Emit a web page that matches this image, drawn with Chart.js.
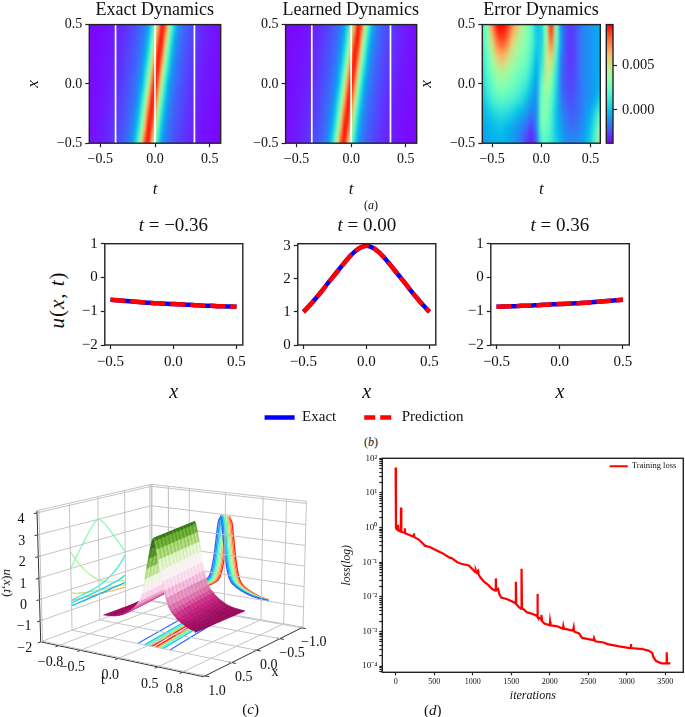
<!DOCTYPE html>
<html>
<head>
<meta charset="utf-8">
<script src="https://cdn.jsdelivr.net/npm/chart.js@4/dist/chart.umd.min.js"></script>
<style>
html, body { margin: 0; background: #fff; }
body { position: relative; width: 685px; height: 717px; overflow: hidden; }
canvas { position: absolute; }
.lab { position: absolute; font-family: "Liberation Serif", serif; white-space: nowrap; color: #111; }
</style>
</head>
<body>
<script>
// heat maps, panel (a)
var heatT = [-0.6,-0.57,-0.54,-0.51,-0.48,-0.45,-0.42,-0.39,-0.36,-0.33,-0.3,-0.27,-0.24,-0.21,-0.18,-0.15,-0.12,-0.09,-0.06,-0.03,0,0.03,0.06,0.09,0.12,0.15,0.18,0.21,0.24,0.27,0.3,0.33,0.36,0.39,0.42,0.45,0.48,0.51,0.54,0.57,0.6];
var heatX = [-0.5,-0.375,-0.25,-0.125,0,0.125,0.25,0.375,0.5];
var uRows = [
  [-.925,-.91,-.89,-.87,-.84,-.81,-.77,-.72,-.67,-.61,-.55,-.47,-.36,-.18,.2,.85,1.8,2.68,2.83,2,1,.32,-.12,-.34,-.45,-.53,-.6,-.66,-.71,-.76,-.8,-.83,-.86,-.89,-.905,-.92,-.935,-.945,-.955,-.965,-.97],
  [-.93,-.915,-.9,-.885,-.855,-.825,-.79,-.75,-.7,-.64,-.58,-.52,-.43,-.31,-.05,.4,1.2,2.15,2.93,2.55,1.6,.7,.1,-.22,-.38,-.48,-.56,-.62,-.68,-.73,-.775,-.815,-.845,-.875,-.9,-.915,-.925,-.94,-.95,-.96,-.97],
  [-.94,-.925,-.915,-.9,-.875,-.845,-.815,-.775,-.73,-.68,-.62,-.56,-.48,-.38,-.22,.1,.7,1.6,2.55,2.93,2.15,1.2,.4,-.05,-.31,-.43,-.52,-.58,-.64,-.7,-.75,-.79,-.825,-.855,-.885,-.9,-.915,-.93,-.94,-.955,-.965],
  [-.945,-.935,-.92,-.905,-.89,-.86,-.83,-.8,-.76,-.71,-.66,-.6,-.53,-.45,-.34,-.12,.32,1,2,2.83,2.68,1.8,.85,.2,-.18,-.36,-.47,-.55,-.61,-.67,-.72,-.77,-.81,-.84,-.87,-.89,-.91,-.925,-.94,-.95,-.96],
  [-.95,-.94,-.93,-.915,-.9,-.88,-.85,-.82,-.78,-.74,-.69,-.63,-.57,-.5,-.4,-.27,0,.55,1.4,2.35,3,2.35,1.4,.55,0,-.27,-.4,-.5,-.57,-.63,-.69,-.74,-.78,-.82,-.85,-.88,-.9,-.915,-.93,-.94,-.95],
  [-.96,-.95,-.94,-.925,-.91,-.89,-.87,-.84,-.81,-.77,-.72,-.67,-.61,-.55,-.47,-.36,-.18,.2,.85,1.8,2.68,2.83,2,1,.32,-.12,-.34,-.45,-.53,-.6,-.66,-.71,-.76,-.8,-.83,-.86,-.89,-.905,-.92,-.935,-.945],
  [-.965,-.955,-.94,-.93,-.915,-.9,-.885,-.855,-.825,-.79,-.75,-.7,-.64,-.58,-.52,-.43,-.31,-.05,.4,1.2,2.15,2.93,2.55,1.6,.7,.1,-.22,-.38,-.48,-.56,-.62,-.68,-.73,-.775,-.815,-.845,-.875,-.9,-.915,-.925,-.94],
  [-.97,-.96,-.95,-.94,-.925,-.915,-.9,-.875,-.845,-.815,-.775,-.73,-.68,-.62,-.56,-.48,-.38,-.22,.1,.7,1.6,2.55,2.93,2.15,1.2,.4,-.05,-.31,-.43,-.52,-.58,-.64,-.7,-.75,-.79,-.825,-.855,-.885,-.9,-.915,-.93],
  [-.97,-.965,-.955,-.945,-.935,-.92,-.905,-.89,-.86,-.83,-.8,-.76,-.71,-.66,-.6,-.53,-.45,-.34,-.12,.32,1,2,2.83,2.68,1.8,.85,.2,-.18,-.36,-.47,-.55,-.61,-.67,-.72,-.77,-.81,-.84,-.87,-.89,-.91,-.925]
];
var errT = [-0.6,-0.55,-0.5,-0.45,-0.4,-0.35,-0.3,-0.25,-0.2,-0.15,-0.1,-0.05,0,0.05,0.1,0.15,0.2,0.25,0.3,0.35,0.4,0.45,0.5,0.55,0.6];
// error in units of 0.001
var errRows = [
  [-1.1,-.8,-.5,-.4,-.4,-.5,-.8,-1.3,-1.9,-2.7,-3.2,-2.1,1.4,1.9,1.1,.3,-.4,-1.1,-1.3,-1.3,-1.1,-.4,.3,1.9,5.4],
  [-.8,-.5,-.3,-.1,-.1,-.4,-.7,-1.1,-1.5,-2,-2.7,-1.3,2.2,2.4,1.4,0,-.8,-1.5,-1.7,-1.7,-1.3,-.8,0,1.4,3.7],
  [-.5,-.1,.3,.6,.7,.6,.3,-.1,-.5,-1.1,-1.6,-1.1,2.7,3,1.6,0,-1.1,-1.7,-2.1,-2,-1.6,-1.1,-.5,.6,1.9],
  [-.1,.7,1.4,1.9,2,1.9,1.6,1.2,.7,0,-.8,-1.1,2.4,3.2,2.2,.3,-1.5,-2.1,-2.4,-2.1,-1.7,-1.3,-1.1,-.5,.3],
  [.3,1.4,2.2,3,3.2,3,2.6,2.2,1.6,1.1,0,-.8,1.9,4.1,3,.6,-1.6,-2.4,-2.5,-2.3,-1.7,-1.3,-1.1,-.8,-.3],
  [.7,1.9,3,4.1,4.6,4.1,3.5,3,2.4,1.9,.8,-.4,1.1,4.6,4.1,1.1,-1.6,-2.4,-2.7,-2.4,-1.7,-1.3,-1.1,-.8,-.4],
  [1.1,2.3,4.1,5.9,6.5,5.7,4.6,3.8,3.2,2.6,1.4,0,.6,4.3,5.9,1.9,-1.3,-2.4,-2.8,-2.4,-1.7,-1.3,-1.1,-.8,-.4],
  [1.4,3,5.4,7.7,8.4,7.7,5.9,4.6,3.7,3,1.9,.3,.3,3.7,7.7,3,-.8,-2.4,-2.8,-2.4,-1.7,-1.3,-1.1,-.8,-.4],
  [1.4,3,7,9.3,9.7,8.8,7.3,5.9,4.6,3,1.9,0,.3,3.7,8.8,3,-1.1,-2.4,-2.7,-2.4,-1.7,-1.3,-1.1,-.8,-.4]
];
var sliceTimes = [-0.36, 0, 0.36];
var barLevels = [-3.7,-2.7,-1.7,-0.7,0.3,1.3,2.3,3.3,4.3,5.3,6.3,7.3,8.3,9.5];
var heatTTicks = [-0.5, 0, 0.5];
var heatTLabels = ['\u22120.5', '0.0', '0.5'];
var heatXTicks = [-0.5, 0, 0.5];
var heatXLabels = ['\u22120.5', '0.0', '0.5'];
var barTicks = [0, 5];
var barLabels = ['0.000', '0.005'];

// slices, panel (b)
var sliceX = [-0.5,-0.45,-0.4,-0.35,-0.3,-0.25,-0.2,-0.15,-0.1,-0.05,0,0.05,0.1,0.15,0.2,0.25,0.3,0.35,0.4,0.45,0.5];
var uAtMinus = [-.66,-.675,-.69,-.705,-.72,-.735,-.75,-.76,-.77,-.78,-.785,-.795,-.805,-.815,-.825,-.835,-.84,-.85,-.855,-.86,-.87];
var uAtZero = [1,1.2,1.42,1.65,1.9,2.13,2.37,2.6,2.8,2.94,3,2.94,2.8,2.6,2.37,2.13,1.9,1.65,1.42,1.2,1];
var uAtPlus = [-.87,-.86,-.855,-.85,-.84,-.835,-.825,-.815,-.805,-.795,-.785,-.78,-.77,-.76,-.75,-.735,-.72,-.705,-.69,-.675,-.66];
var sliceXTicks = [-0.5, 0, 0.5];
var sliceXLabels = ['\u22120.5', '0.0', '0.5'];
var sideYTicks = [-2, -1, 0, 1];
var sideYLabels = ['\u22122', '\u22121', '0', '1'];
var midYTicks = [0, 1, 2, 3];
var midYLabels = ['0', '1', '2', '3'];

// 3d view, panel (c)
var surfX = [-.5,-.472,-.444,-.417,-.389,-.361,-.333,-.306,-.278,-.25,-.222,-.194,-.167,-.139,-.111,-.083,-.056,-.028,0,.028,.056,.083,.111,.139,.167,.194,.222,.25,.278,.306,.333,.361,.389,.417,.444,.472,.5];
var surfRidge = [-.072,-.068,-.064,-.06,-.056,-.052,-.048,-.044,-.04,-.036,-.032,-.028,-.024,-.02,-.016,-.012,-.008,-.004,0,.004,.008,.012,.016,.02,.024,.028,.032,.036,.04,.044,.048,.052,.056,.06,.064,.068,.072];
var surfOffset = [-.8,-.58,-.52,-.47,-.42,-.38,-.34,-.3,-.256,-.224,-.19,-.16,-.136,-.112,-.088,-.064,-.04,-.016,0,.016,.04,.064,.088,.112,.136,.16,.19,.224,.256,.3,.34,.38,.42,.47,.52,.58,.8];
var surfU = [-.96,-.93,-.9,-.85,-.78,-.69,-.61,-.5,-.33,-.2,0,.35,.68,1.08,1.58,2.05,2.5,2.88,3,2.88,2.5,2.05,1.58,1.08,.68,.35,0,-.2,-.33,-.5,-.61,-.69,-.78,-.85,-.9,-.93,-.96];
var boxTicksT = [-0.8, -0.5, 0, 0.5, 0.8];
var boxLabelsT = ['\u22120.8', '\u22120.5', '0.0', '0.5', '0.8'];
var boxTicksX = [-1, -0.5, 0, 0.5, 1];
var boxLabelsX = ['\u22121.0', '\u22120.5', '0.0', '0.5', '1.0'];
var boxTicksU = [-2, -1, 0, 1, 2, 3, 4];
var boxLabelsU = ['\u22122', '\u22121', '0', '1', '2', '3', '4'];
var wallColumns = [10, 13, 15, 20, 24, 27, 30];
var floorLevels = [-0.5, 0, 0.5, 1, 1.5, 2, 2.5];
var floorOffsets = [0.21, 0.12, 0.09, 0.072, 0.058, 0.042, 0.025];
var floorRidge = [-0.072, 0.072];

// training, panel (d)
var lossIter = [0,4,10,25,30,36,55,66,70,74,100,118,120,124,150,200,235,238,242,300,350,380,450,500,600,700,730,800,850,950,1000,1030,1040,1050,1070,1075,1100,1150,1200,1250,1295,1300,1305,1330,1345,1370,1450,1520,1555,1560,1565,1600,1630,1634,1640,1680,1700,1780,1835,1840,1845,1870,1888,1892,1900,1930,2000,2004,2010,2100,2170,2175,2180,2300,2310,2315,2380,2420,2500,2570,2575,2590,2700,2750,2900,3000,3050,3054,3058,3200,3280,3330,3345,3380,3450,3515,3518,3522,3566];
var lossVal = [54,1,0.92,0.85,1.2,0.82,0.78,0.77,3.8,0.75,0.72,0.7,0.95,0.68,0.65,0.58,0.55,0.68,0.53,0.45,0.35,0.3,0.27,0.235,0.185,0.135,0.13,0.1,0.09,0.08,0.062,0.052,0.058,0.05,0.056,0.045,0.036,0.027,0.022,0.017,0.015,0.034,0.016,0.017,0.012,0.0095,0.0085,0.0072,0.0065,0.027,0.0062,0.005,0.0045,0.065,0.0048,0.004,0.0036,0.0032,0.0028,0.012,0.0026,0.0024,0.0022,0.003,0.002,0.0017,0.0015,0.0019,0.0015,0.0014,0.0012,0.0014,0.0012,0.00105,0.0013,0.001,0.00088,0.00065,0.0006,0.00056,0.00064,0.00052,0.00048,0.00043,0.00037,0.00034,0.00033,0.00043,0.00033,0.00031,0.00028,0.00024,0.00018,0.00014,0.00012,0.00012,0.00025,0.00012,0.00012];
var lossXTicks = [0, 500, 1000, 1500, 2000, 2500, 3000, 3500];
var lossDecades = [1e-4, 1e-3, 1e-2, 1e-1, 1, 10, 100];
var lossDecadeLabels = ['10\u207B\u2074', '10\u207B\u00B3', '10\u207B\u00B2', '10\u207B\u00B9', '10\u2070', '10\u00B9', '10\u00B2'];

var SERIF = '"Liberation Serif", serif';
Chart.defaults.animation = false;
Chart.defaults.font.family = SERIF;
Chart.defaults.color = '#111';
Chart.defaults.plugins.legend.display = false;
Chart.defaults.plugins.tooltip.enabled = false;
var INK = '#222';

function rainbow(v) {
    v = Math.max(0, Math.min(1, v));
    var r = Math.abs(2 * v - 0.5), g = Math.sin(Math.PI * v), b = Math.cos(Math.PI * v / 2);
    return 'rgb(' + Math.round(Math.min(r, 1) * 255) + ',' + Math.round(g * 255) + ',' + Math.round(b * 255) + ')';
}

var piyg = [[142,1,82],[197,27,125],[222,119,174],[241,182,218],[253,224,239],[247,247,247],[230,245,208],[184,225,134],[127,188,65],[77,146,33],[39,100,25]];
function pinkGreen(v) {
    v = Math.max(0, Math.min(0.9999, v)) * (piyg.length - 1);
    var i = Math.floor(v), f = v - i, a = piyg[i], b = piyg[i + 1];
    return 'rgb(' + a.map(function (c, k) { return Math.round(c + (b[k] - c) * f); }).join(',') + ')';
}

function addLabel(html, x, y, size, rotate, italic) {
    var d = document.createElement('div');
    d.className = 'lab';
    d.innerHTML = html;
    d.style.left = x + 'px';
    d.style.top = y + 'px';
    d.style.fontSize = size + 'px';
    if (italic) d.style.fontStyle = 'italic';
    d.style.transform = 'translate(-50%,-50%) rotate(' + (rotate || 0) + 'deg)';
    document.body.appendChild(d);
    return d;
}

// the canvas sits on whole pixels, the plot area may not
function addCanvas(plot, m) {
    var c = document.createElement('canvas');
    var left = Math.floor(plot.l - m.l), top = Math.floor(plot.t - m.t);
    var right = Math.ceil(plot.r + m.r), bottom = Math.ceil(plot.b + m.b);
    c.width = right - left;
    c.height = bottom - top;
    c.style.left = left + 'px';
    c.style.top = top + 'px';
    document.body.appendChild(c);
    return {
        canvas: c,
        axisLeft: plot.l - left,
        axisBottom: bottom - plot.b,
        axisRight: right - plot.r,
        padding: { top: plot.t - top, right: right - plot.r, left: 0, bottom: 0 }
    };
}

function tickStyle(len) {
    return { drawOnChartArea: false, drawTicks: true, tickLength: len, tickColor: INK, tickWidth: 1.2 };
}

function xAxis(box, min, max, ticks, labels, size, title, titleSize, edge, pad) {
    return {
        type: 'linear', min: min, max: max,
        grid: tickStyle(4), border: { display: false },
        afterBuildTicks: function (s) { s.ticks = ticks.map(function (v) { return { value: v }; }); },
        afterFit: function (s) { s.height = box.axisBottom; s.paddingLeft = 0; s.paddingRight = 0; },
        ticks: { autoSkip: false, maxRotation: 0, padding: pad || 4, font: { size: size }, callback: function (v, i) { return labels[i]; } },
        title: { display: !!title, text: title, font: { size: titleSize, style: 'italic', lineHeight: 1.2 }, padding: { top: edge, bottom: 0 } }
    };
}

function yAxis(box, min, max, ticks, labels, size, title, titleSize, edge) {
    return {
        type: 'linear', min: min, max: max,
        grid: tickStyle(4), border: { display: false },
        afterBuildTicks: function (s) { s.ticks = ticks.map(function (v) { return { value: v }; }); },
        afterFit: function (s) { s.width = box.axisLeft; s.paddingTop = 0; s.paddingBottom = 0; },
        ticks: { autoSkip: false, maxRotation: 0, padding: 3, font: { size: size }, callback: function (v, i) { return labels[i]; } },
        title: { display: !!title, text: title, font: { size: titleSize, style: 'italic', lineHeight: 1.2 }, padding: { top: edge, bottom: 0 } }
    };
}

var framePlugin = {
    id: 'frame',
    afterDatasetsDraw: function (chart) {
        var a = chart.chartArea, ctx = chart.ctx;
        ctx.save();
        ctx.strokeStyle = INK;
        ctx.lineWidth = 1.4;
        ctx.strokeRect(a.left, a.top, a.right - a.left, a.bottom - a.top);
        ctx.restore();
    }
};

// paints a value table into a small image and scales it onto the axes
function heatLayer(rows, ts, xs, lo, hi) {
    return {
        id: 'heat',
        beforeDatasetsDraw: function (chart) {
            var off = document.createElement('canvas');
            off.width = ts.length;
            off.height = xs.length;
            var oc = off.getContext('2d');
            rows.forEach(function (row, i) {
                row.forEach(function (v, j) {
                    oc.fillStyle = rainbow((v - lo) / (hi - lo));
                    oc.fillRect(j, xs.length - 1 - i, 1, 1);
                });
            });
            var sx = chart.scales.x, sy = chart.scales.y, ctx = chart.ctx;
            var x0 = sx.getPixelForValue(ts[0]), x1 = sx.getPixelForValue(ts[ts.length - 1]);
            var y0 = sy.getPixelForValue(xs[xs.length - 1]), y1 = sy.getPixelForValue(xs[0]);
            ctx.save();
            ctx.imageSmoothingEnabled = true;
            ctx.imageSmoothingQuality = 'high';
            ctx.drawImage(off, 0.5, 0.5, ts.length - 1, xs.length - 1, x0, y0, x1 - x0, y1 - y0);
            ctx.restore();
        }
    };
}

function sliceLines(xs) {
    return sliceTimes.map(function (t) {
        return {
            data: xs.map(function (x) { return { x: t, y: x }; }),
            showLine: true, borderColor: '#fff', borderWidth: 1.7, pointRadius: 0
        };
    });
}

function heatPanel(plot, m, rows, ts, lo, hi, withSlices, tMin, tMax, yTitle, yEdge) {
    var box = addCanvas(plot, m);
    return new Chart(box.canvas, {
        type: 'scatter',
        data: { datasets: withSlices ? sliceLines(heatX.filter(function (x) { return x === -0.5 || x === 0.5; })) : [] },
        options: {
            responsive: false,
            layout: { padding: box.padding },
            scales: {
                x: xAxis(box, tMin, tMax, heatTTicks, heatTLabels, 14, 't', 17, 5),
                y: yAxis(box, -0.5, 0.5, heatXTicks, heatXLabels, 14, yTitle, 17, yEdge)
            }
        },
        plugins: [heatLayer(rows, ts, heatX, lo, hi), framePlugin]
    });
}

heatPanel({ l: 89.3, r: 220.7, t: 24.6, b: 143.2 }, { l: 68, r: 24, t: 12, b: 56 }, uRows, heatT, -1, 3, true, -0.6, 0.6, 'x', 2);
heatPanel({ l: 285.6, r: 416.7, t: 24.6, b: 143.2 }, { l: 40, r: 24, t: 12, b: 56 }, uRows, heatT, -1, 3, true, -0.6, 0.6, '', 0);
heatPanel({ l: 482.3, r: 600.3, t: 24.6, b: 143.2 }, { l: 68, r: 8, t: 12, b: 56 }, errRows, errT, -3.7, 9.5, false, -0.6, 0.6, 'x', 2);

// colour bar of the error panel
(function () {
    var plot = { l: 606.3, r: 613, t: 24.6, b: 143.2 };
    var box = addCanvas(plot, { l: 2, r: 60, t: 12, b: 4 });
    var ys = barLevels;
    var rows = barLevels.map(function (v) { return [v, v]; });
    new Chart(box.canvas, {
        type: 'scatter',
        data: { datasets: [] },
        options: {
            responsive: false,
            layout: { padding: { top: box.padding.top, left: box.axisLeft, right: 0, bottom: box.axisBottom } },
            scales: {
                x: { display: false, min: 0, max: 1 },
                y: {
                    type: 'linear', position: 'right', min: -3.7, max: 9.5,
                    grid: tickStyle(4), border: { display: false },
                    afterBuildTicks: function (s) { s.ticks = barTicks.map(function (v) { return { value: v }; }); },
                    afterFit: function (s) { s.width = box.axisRight; s.paddingTop = 0; s.paddingBottom = 0; },
                    ticks: { autoSkip: false, padding: 5, font: { size: 14.4 }, callback: function (v, i) { return barLabels[i]; } }
                }
            }
        },
        plugins: [heatLayer(rows, [0, 1], ys, -3.7, 9.5), framePlugin]
    });
})();

addLabel('Exact Dynamics', 154.8, 8.5, 18);
addLabel('Learned Dynamics', 350.7, 8.5, 18);
addLabel('Error Dynamics', 541, 8.5, 18);
addLabel('(<i>a</i>)', 371, 205, 12);

// panel (b)
function slicePanel(plot, m, uValues, yMin, yMax, yTicks, yLabels) {
    var box = addCanvas(plot, m);
    return new Chart(box.canvas, {
        type: 'scatter',
        data: {
            datasets: [
                { label: 'Exact', data: sliceX.map(function (x, i) { return { x: x, y: uValues[i] }; }), showLine: true, borderColor: '#0000ff', borderWidth: 4.5, pointRadius: 0, tension: 0.3, order: 2, clip: false },
                { label: 'Prediction', data: sliceX.map(function (x, i) { return { x: x, y: uValues[i] }; }), showLine: true, borderColor: '#ff0000', borderWidth: 4.5, borderDash: [15, 5], pointRadius: 0, tension: 0.3, order: 1, clip: false }
            ]
        },
        options: {
            responsive: false,
            layout: { padding: box.padding },
            scales: {
                x: xAxis(box, -0.545, 0.55, sliceXTicks, sliceXLabels, 15, 'x', 20, 1),
                y: yAxis(box, yMin, yMax, yTicks, yLabels, 15)
            }
        },
        plugins: [framePlugin]
    });
}

slicePanel({ l: 104.8, r: 242.8, t: 243.7, b: 345 }, { l: 30, r: 24, t: 10, b: 60 }, uAtMinus, -2, 1, sideYTicks, sideYLabels);
slicePanel({ l: 297.8, r: 435.8, t: 243.7, b: 345 }, { l: 30, r: 24, t: 10, b: 60 }, uAtZero, 0, 3.06, midYTicks, midYLabels);
slicePanel({ l: 490.8, r: 629.3, t: 243.7, b: 345 }, { l: 30, r: 24, t: 10, b: 60 }, uAtPlus, -2, 1, sideYTicks, sideYLabels);

addLabel('<i>t</i> = \u22120.36', 173.4, 225, 19);
addLabel('<i>t</i> = 0.00', 366.8, 225, 19);
addLabel('<i>t</i> = 0.36', 559.8, 225, 19);
addLabel('<i>u</i>(<i>x</i>, <i>t</i>)', 56.5, 300, 21, -90).style.letterSpacing = '1px';
addLabel('(<i>b</i>)', 371, 442, 12);

function lineLegendItems(chart) {
    return chart.data.datasets.map(function (d) {
        return { text: d.label, strokeStyle: d.borderColor, fillStyle: d.borderColor, lineWidth: d.borderWidth, lineDash: d.borderDash || [], pointStyle: 'line', fontColor: '#111' };
    });
}

// a legend on its own canvas, for lines that sit outside one plot area
function legendCanvas(left, top, w, h, sets, lineWidth, pad, size) {
    var c = document.createElement('canvas');
    c.width = w; c.height = h;
    c.style.left = left + 'px'; c.style.top = top + 'px';
    document.body.appendChild(c);
    return new Chart(c, {
        type: 'scatter',
        data: { datasets: sets },
        options: {
            responsive: false,
            scales: { x: { display: false }, y: { display: false } },
            plugins: {
                legend: {
                    display: true, position: 'top',
                    labels: { usePointStyle: true, pointStyleWidth: lineWidth, padding: pad, font: { size: size }, generateLabels: lineLegendItems }
                }
            }
        }
    });
}

legendCanvas(214, 382, 300, 170, [
    { label: 'Exact', data: [], borderColor: '#0000ff', borderWidth: 4.5 },
    { label: 'Prediction', data: [], borderColor: '#ff0000', borderWidth: 4.5, borderDash: [11, 5] }
], 30, 28, 15);

// panel (c): a small camera turns box coordinates into screen units
var CAM = { az: 34, el: 13.5, dist: 12, scale: 95.7, cx: 174.7, cy: 121 };
var T_SPAN = 1.05, X_SPAN = 1.03, U_LOW = -2, U_HIGH = 4.1;
function project(t, x, u) {
    var az = CAM.az * Math.PI / 180, el = CAM.el * Math.PI / 180;
    var sa = Math.sin(az), ca = Math.cos(az), se = Math.sin(el), ce = Math.cos(el);
    var X = x / X_SPAN, Y = t / T_SPAN, Z = (u - (U_LOW + U_HIGH) / 2) / ((U_HIGH - U_LOW) / 2) * 0.69;
    var right = -sa * X + ca * Y;
    var up = -se * ca * X - se * sa * Y + ce * Z;
    var depth = ce * ca * X + ce * sa * Y + se * Z;
    var f = CAM.dist / (CAM.dist - depth);
    return { x: CAM.cx + CAM.scale * f * right, y: CAM.cy - CAM.scale * f * up };
}

function seg(list, a, b) {
    list.push(project(a[0], a[1], a[2]), project(b[0], b[1], b[2]), { x: NaN, y: NaN });
}

function curve(points, color, width, tension) {
    return { data: points, showLine: true, borderColor: color, borderWidth: width, pointRadius: 0, clip: false, tension: tension || 0 };
}

(function () {
    var W = 340, H = 267;
    var c = document.createElement('canvas');
    c.width = W; c.height = H;
    c.style.left = '0px'; c.style.top = '450px';
    document.body.appendChild(c);

    var grid = [], axes = [];
    var tA = -T_SPAN, tB = T_SPAN, xA = -X_SPAN, xB = X_SPAN;
    boxTicksU.forEach(function (u) {
        seg(grid, [tA, xB, u], [tA, xA, u]);
        seg(grid, [tA, xA, u], [tB, xA, u]);
        seg(axes, [tA, xB - 0.04, u], [tA, xB + 0.05, u]);
    });
    boxTicksT.forEach(function (t) {
        seg(grid, [t, xA, U_HIGH], [t, xA, U_LOW]);
        seg(grid, [t, xA, U_LOW], [t, xB, U_LOW]);
        seg(axes, [t, xB - 0.04, U_LOW], [t, xB + 0.05, U_LOW]);
    });
    boxTicksX.forEach(function (x) {
        seg(grid, [tA, x, U_HIGH], [tA, x, U_LOW]);
        seg(grid, [tA, x, U_LOW], [tB, x, U_LOW]);
        seg(axes, [tB - 0.04, x, U_LOW], [tB + 0.05, x, U_LOW]);
    });
    // pane edges
    seg(grid, [tA, xB, U_HIGH], [tA, xA, U_HIGH]);
    seg(grid, [tA, xA, U_HIGH], [tB, xA, U_HIGH]);
    seg(grid, [tA, xA, U_HIGH], [tA, xA, U_LOW]);
    seg(grid, [tB, xA, U_HIGH], [tB, xA, U_LOW]);
    // the dark axes
    seg(axes, [tA, xB, U_HIGH], [tA, xB, U_LOW]);
    seg(axes, [tA, xB, U_LOW], [tB, xB, U_LOW]);
    seg(axes, [tB, xB, U_LOW], [tB, xA, U_LOW]);

    var sets = [curve(grid, '#c4c4c4', 1), curve(axes, '#333', 1)];

    // contours on the back wall, one per row
    uRows.forEach(function (row, i) {
        sets.push(curve(row.map(function (u, j) { return project(heatT[j], xA, u); }), rainbow(0.12 + 0.84 * i / (uRows.length - 1)), 1.4, 0.3));
    });
    // contours on the left wall, one per chosen column
    wallColumns.forEach(function (j) {
        sets.push(curve(uRows.map(function (row, i) { return project(tA, heatX[i], row[j]); }), rainbow((heatT[j] + 0.6) / 1.2), 1.3, 0.4));
    });
    // contours on the floor, both flanks of the ridge
    floorLevels.forEach(function (level, k) {
        var color = rainbow(0.14 + (level + 0.5) / 3.5);
        [-1, 1].forEach(function (side) {
            var d = floorOffsets[k] * side;
            sets.push(curve([project(floorRidge[0] + d, -0.5, U_LOW), project(floorRidge[1] + d, 0.5, U_LOW)], color, 1.3));
        });
    });

    // rows run back to front, so later cells cover earlier ones
    var surfacePlugin = {
        id: 'surface',
        afterDatasetsDraw: function (chart) {
            var ctx = chart.ctx, sx = chart.scales.x, sy = chart.scales.y;
            function corner(i, j) {
                var t = Math.max(-0.6, Math.min(0.6, surfRidge[i] + surfOffset[j]));
                var p = project(t, surfX[i], surfU[j]);
                return [sx.getPixelForValue(p.x), sy.getPixelForValue(p.y)];
            }
            ctx.save();
            ctx.lineWidth = 0.5;
            for (var i = 0; i < surfX.length - 1; i++) {
                var phase = (i % 3) / 3;   // steps the colour bands, as coarse strides do
                for (var j = 0; j < surfOffset.length - 1; j++) {
                    var q = [corner(i, j), corner(i, j + 1), corner(i + 1, j + 1), corner(i + 1, j)];
                    var next = surfU[Math.min(j + 2, surfU.length - 1)];
                    var shade = surfU[j + 1] + (next - surfU[j + 1]) * phase;
                    var color = pinkGreen((shade + 1) / 4);
                    ctx.fillStyle = color;
                    ctx.strokeStyle = color;
                    ctx.beginPath();
                    ctx.moveTo(q[0][0], q[0][1]);
                    for (var k = 1; k < 4; k++) ctx.lineTo(q[k][0], q[k][1]);
                    ctx.closePath();
                    ctx.fill();
                    ctx.stroke();
                }
            }
            ctx.restore();
        }
    };

    var labelPlugin = {
        id: 'boxLabels',
        afterDraw: function (chart) {
            var ctx = chart.ctx, sx = chart.scales.x, sy = chart.scales.y;
            function put(text, p, dx, dy) {
                ctx.fillText(text, sx.getPixelForValue(p.x) + dx, sy.getPixelForValue(p.y) + dy);
            }
            ctx.save();
            ctx.fillStyle = '#111';
            ctx.font = '14px ' + SERIF;
            ctx.textAlign = 'center';
            ctx.textBaseline = 'middle';
            boxTicksU.forEach(function (u, i) { put(boxLabelsU[i], project(tA, xB, u), -16, 6); });
            boxTicksT.forEach(function (t, i) { put(boxLabelsT[i], project(t, xB, U_LOW), -8, 17); });
            boxTicksX.forEach(function (x, i) { put(boxLabelsX[i], project(tB, x, U_LOW), 12, 15); });
            ctx.fillText('t', 103, 230.5);
            ctx.fillText('x', 275, 222);
            ctx.restore();
        }
    };

    new Chart(c, {
        type: 'scatter',
        data: { datasets: sets },
        options: {
            responsive: false,
            scales: {
                x: { display: false, min: 0, max: W },
                y: { display: false, min: 0, max: H, reverse: true }
            }
        },
        plugins: [surfacePlugin, labelPlugin]
    });
})();

addLabel('<i>u</i>(<i>x</i>,<i>t</i>)', 8, 583, 13, 90);
addLabel('(<i>c</i>)', 250.7, 709, 15);

// panel (d)
(function () {
    var plot = { l: 382.3, r: 683.3, t: 458.3, b: 672.3 };
    var box = addCanvas(plot, { l: 42, r: 1, t: 6, b: 30 });
    var logTicks = [];
    lossDecades.forEach(function (d) {
        logTicks.push(d);
        if (d < 100) [2, 3, 4, 5, 6, 7, 8, 9].forEach(function (k) { logTicks.push(d * k); });
    });
    [7e-5, 8e-5, 9e-5].forEach(function (v) { logTicks.push(v); });

    var x = xAxis(box, -173, 3733, lossXTicks, lossXTicks.map(String), 8, 'iterations', 12, 3, 2);
    x.grid = tickStyle(3);
    new Chart(box.canvas, {
        type: 'scatter',
        data: {
            datasets: [{
                label: 'Training loss',
                data: lossIter.map(function (it, i) { return { x: it, y: lossVal[i] }; }),
                showLine: true, borderColor: '#ff0000', borderWidth: 2.2, pointRadius: 0
            }]
        },
        options: {
            responsive: false,
            layout: { padding: box.padding },
            scales: {
                x: x,
                y: {
                    type: 'logarithmic', min: 6.6e-5, max: 100,
                    grid: tickStyle(3), border: { display: false },
                    afterBuildTicks: function (s) { s.ticks = logTicks.map(function (v) { return { value: v }; }); },
                    afterFit: function (s) { s.width = box.axisLeft; s.paddingTop = 0; s.paddingBottom = 0; },
                    ticks: {
                        autoSkip: false, maxRotation: 0, padding: 2, font: { size: 9 },
                        callback: function (v) {
                            var k = lossDecades.indexOf(v);
                            return k < 0 ? '' : lossDecadeLabels[k];
                        }
                    },
                    title: { display: true, text: 'loss(log)', font: { size: 11.5, style: 'italic', lineHeight: 1.2 }, padding: { top: 0, bottom: 0 } }
                }
            }
        },
        plugins: [framePlugin]
    });
})();

legendCanvas(583, 458, 120, 60, [
    { label: 'Training loss', data: [], borderColor: '#ff0000', borderWidth: 2 }
], 18, 4, 8.5);

addLabel('(<i>d</i>)', 432.7, 710, 15);
</script>
</body>
</html>
